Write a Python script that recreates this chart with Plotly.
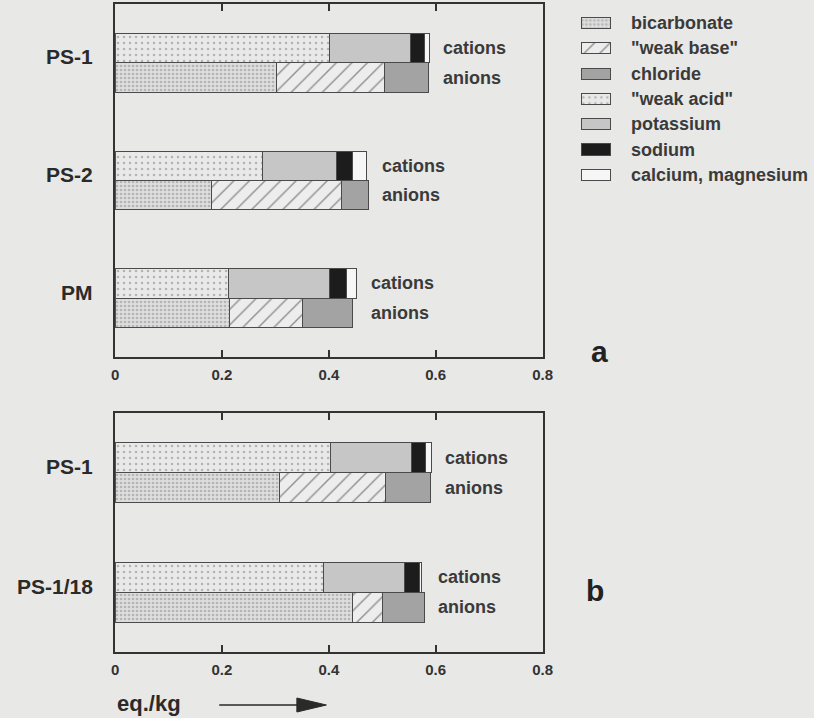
import plotly.graph_objects as go

# ---------------- data ----------------
samples_a = ["PS-1", "PS-2", "PM"]
samples_b = ["PS-1", "PS-1/18"]

# cations (eq./kg), stacked left to right
weak_acid_a = [0.402, 0.276, 0.213]
potassium_a = [0.151, 0.138, 0.189]
sodium_a = [0.026, 0.031, 0.032]
calcium_a = [0.009, 0.026, 0.018]
# anions
bicarbonate_a = [0.303, 0.180, 0.214]
weak_base_a = [0.201, 0.243, 0.137]
chloride_a = [0.082, 0.051, 0.094]

weak_acid_b = [0.404, 0.390]
potassium_b = [0.151, 0.152]
sodium_b = [0.026, 0.028]
calcium_b = [0.011, 0.003]
bicarbonate_b = [0.308, 0.445]
weak_base_b = [0.199, 0.055]
chloride_b = [0.083, 0.079]

legend_names = ["bicarbonate", '"weak base"', "chloride", '"weak acid"',
                "potassium", "sodium", "calcium, magnesium"]
x_ticks = [0, 0.2, 0.4, 0.6, 0.8]
x_ticktext = ["0", "0.2", "0.4", "0.6", "0.8"]

# ---------------- styles ----------------
BG = "#e8e8e6"
INK = "#333333"
W, H = 814, 718

styles = {
    "bicarbonate": dict(color="#dadada", pattern=dict(shape=".", size=4, solidity=0.35,
                                                      fgcolor="#8a8a8a", bgcolor="#dedede")),
    '"weak base"': dict(color="#ececec", pattern=dict(shape="/", size=11, solidity=0.13,
                                                      fgcolor="#333333", bgcolor="#ededed")),
    "chloride": dict(color="#a3a3a3"),
    '"weak acid"': dict(color="#e6e6e6", pattern=dict(shape=".", size=6, solidity=0.13,
                                                      fgcolor="#7a7a7a", bgcolor="#e9e9e9")),
    "potassium": dict(color="#c6c6c6"),
    "sodium": dict(color="#1c1c1c"),
    "calcium, magnesium": dict(color="#f6f6f6"),
}
LINE = dict(color="#4a4a4a", width=1)
TXT = dict(family="Arial", size=18, color="#3a3a3a", weight="bold")

def px_x(p):
    return p / W

def px_y(p):
    return 1 - p / H

fig = go.Figure()

BAR_W = 0.25

def add_panel(samples, cations, anions, xa, ya):
    n = len(samples)
    y_cat = [i - BAR_W / 2 for i in range(n)]
    y_an = [i + BAR_W / 2 for i in range(n)]
    for name, vals in cations:
        st = styles[name]
        fig.add_trace(go.Bar(
            x=vals, y=y_cat, orientation="h", width=BAR_W, name=name,
            marker=dict(color=st["color"], line=LINE, pattern=st.get("pattern")),
            xaxis=xa, yaxis=ya, showlegend=False, hoverinfo="x+name"))
    for name, vals in anions:
        st = styles[name]
        fig.add_trace(go.Bar(
            x=vals, y=y_an, orientation="h", width=BAR_W, name=name,
            marker=dict(color=st["color"], line=LINE, pattern=st.get("pattern")),
            xaxis=xa, yaxis=ya, showlegend=False, hoverinfo="x+name"))
    # labels
    for i, s in enumerate(samples):
        cat_total = sum(v[i] for _, v in cations)
        an_total = sum(v[i] for _, v in anions)
        xm = max(cat_total, an_total)
        fig.add_annotation(x=0, xref=f"{xa} domain", y=i, yref=ya, text=s,
                           showarrow=False, xanchor="right", yanchor="middle",
                           xshift=-20, yshift=6,
                           font=dict(family="Arial", size=21, color="#2a2a2a", weight="bold"))
        fig.add_annotation(x=xm, xref=xa, y=y_cat[i], yref=ya, text="cations",
                           showarrow=False, xanchor="left", yanchor="middle", xshift=12,
                           font=TXT)
        fig.add_annotation(x=xm, xref=xa, y=y_an[i], yref=ya, text="anions",
                           showarrow=False, xanchor="left", yanchor="middle", xshift=12,
                           font=TXT)

add_panel(samples_a,
          [('"weak acid"', weak_acid_a), ("potassium", potassium_a),
           ("sodium", sodium_a), ("calcium, magnesium", calcium_a)],
          [("bicarbonate", bicarbonate_a), ('"weak base"', weak_base_a),
           ("chloride", chloride_a)],
          "x", "y")
add_panel(samples_b,
          [('"weak acid"', weak_acid_b), ("potassium", potassium_b),
           ("sodium", sodium_b), ("calcium, magnesium", calcium_b)],
          [("bicarbonate", bicarbonate_b), ('"weak base"', weak_base_b),
           ("chloride", chloride_b)],
          "x2", "y2")

# custom legend swatches on a hidden axis
for i, name in enumerate(legend_names):
    st = styles[name]
    fig.add_trace(go.Bar(
        x=[1], y=[i], orientation="h", width=0.44, name=name,
        marker=dict(color=st["color"], line=LINE, pattern=st.get("pattern")),
        xaxis="x3", yaxis="y3", showlegend=False, hoverinfo="name"))
    fig.add_annotation(x=px_x(636), xref="paper", y=i, yref="y3", text=name,
                       showarrow=False, xanchor="left", yanchor="middle",
                       font=TXT)

xdom = [px_x(113), px_x(548)]
xcommon = dict(range=[0, 0.8], tickvals=x_ticks, ticktext=x_ticktext,
               ticks="inside", ticklen=7, tickwidth=1.5, tickcolor=INK,
               showline=True, linecolor=INK, linewidth=2, mirror="ticks",
               showgrid=False, zeroline=False, domain=xdom, fixedrange=True,
               ticklabelstandoff=3,
               tickfont=dict(family="Arial", size=15, color=INK, weight="bold"))
ycommon = dict(showticklabels=False, ticks="", showline=True, linecolor=INK,
               linewidth=2, mirror=True, showgrid=False, zeroline=False,
               fixedrange=True)

fig.update_layout(
    width=W, height=H,
    margin=dict(l=0, r=0, t=0, b=0),
    paper_bgcolor=BG, plot_bgcolor=BG,
    barmode="stack",
    showlegend=False,
    xaxis=dict(**xcommon, anchor="y"),
    yaxis=dict(**ycommon, anchor="x", range=[2.5, -0.5],
               domain=[px_y(357), px_y(4)]),
    xaxis2=dict(**xcommon, anchor="y2"),
    yaxis2=dict(**ycommon, anchor="x2", range=[1.5, -0.5],
                domain=[px_y(652), px_y(413)]),
    xaxis3=dict(visible=False, range=[-0.05, 1.05], anchor="y3",
                domain=[px_x(586.5), px_x(618.5)], fixedrange=True),
    yaxis3=dict(visible=False, range=[6.5, -0.5], anchor="x3",
                domain=[px_y(187.5), px_y(10.4)], fixedrange=True),
)

# panel letters and unit label
fig.add_annotation(x=px_x(606), y=px_y(352), xref="paper", yref="paper", text="a",
                   showarrow=False, xanchor="center", yanchor="middle",
                   font=dict(family="Arial", size=30, color="#222", weight="bold"))
fig.add_annotation(x=px_x(601), y=px_y(590), xref="paper", yref="paper", text="b",
                   showarrow=False, xanchor="center", yanchor="middle",
                   font=dict(family="Arial", size=30, color="#222", weight="bold"))
fig.add_annotation(x=px_x(113), y=px_y(703), xref="paper", yref="paper", text="eq./kg",
                   showarrow=False, xanchor="left", yanchor="middle",
                   font=dict(family="Arial", size=22, color="#2a2a2a", weight="bold"))

# arrow after unit label
fig.add_shape(type="line", xref="paper", yref="paper",
              x0=px_x(219), x1=px_x(300), y0=px_y(705), y1=px_y(705),
              line=dict(color="#2a2a2a", width=1.5))
fig.add_shape(type="path", xref="paper", yref="paper",
              path=f"M {px_x(298)} {px_y(698)} L {px_x(328)} {px_y(705)} L {px_x(298)} {px_y(712)} Z",
              fillcolor="#2a2a2a", line=dict(color="#2a2a2a", width=1))

fig.write_html("out.html",
               config={"displayModeBar": False},
               post_script="document.body.style.margin='0px';document.body.style.background='#e8e8e6';")
